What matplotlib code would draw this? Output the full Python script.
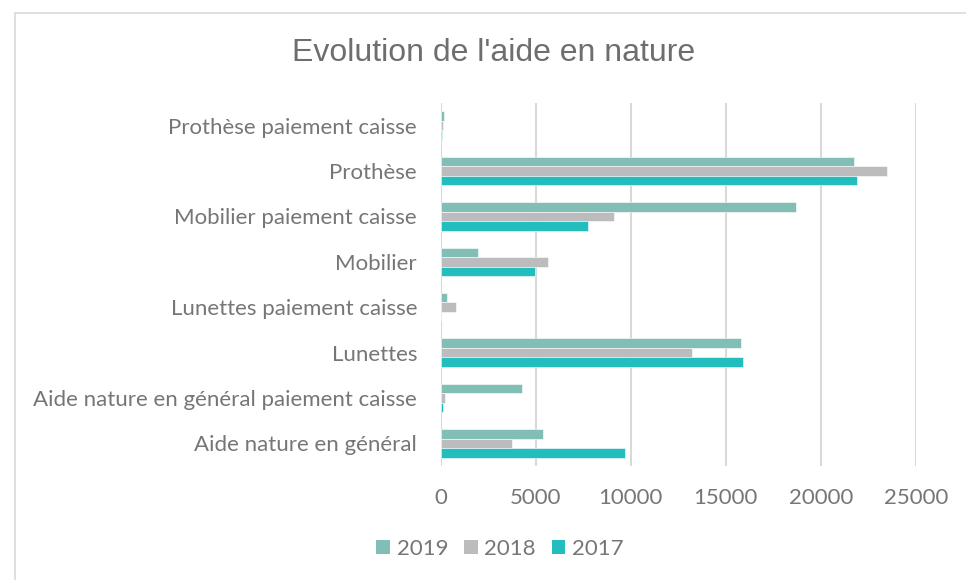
import matplotlib
matplotlib.use("Agg")
import matplotlib.pyplot as plt
from matplotlib.patches import Rectangle, Patch
import numpy as np

categories = [
    "Aide nature en général",
    "Aide nature en général paiement caisse",
    "Lunettes",
    "Lunettes paiement caisse",
    "Mobilier",
    "Mobilier paiement caisse",
    "Prothèse",
    "Prothèse paiement caisse",
]
values_2019 = [5380, 4260, 15800, 350, 1950, 18700, 21740, 175]
values_2018 = [3750, 210, 13200, 800, 5630, 9140, 23500, 140]
values_2017 = [9720, 140, 15910, 0, 4980, 7750, 21900, 70]
series_labels = ["2019", "2018", "2017"]
x_ticks = [0, 5000, 10000, 15000, 20000, 25000]

colors = ["#81BEB5", "#BCBCBF", "#24BDBE"]
text_color = "#767676"
grid_color = "#D9D9D9"

plt.rcParams["font.family"] = ["Lato", "DejaVu Sans"]

fig = plt.figure(figsize=(9.66, 5.8), dpi=100)
W, H = 966, 580

# outer chart frame
fig.patches.append(Rectangle((15 / W, -0.1), 1.2, 1 - 13 / H + 0.1,
                             transform=fig.transFigure, fill=False,
                             edgecolor=grid_color, linewidth=1.2, zorder=0))

ax = fig.add_axes([440.7 / W, 1 - 466 / H, (916 - 440.7) / W, (466 - 103) / H])

y = np.arange(len(categories))
h = 0.21
for vals, off, col, lab in zip([values_2019, values_2018, values_2017],
                               [h, 0, -h], colors, series_labels):
    ax.barh(y + off, vals, height=h, color=col, label=lab,
            edgecolor="white", linewidth=0.4, zorder=3)

ax.set_xlim(0, 25000)
ax.set_ylim(-0.5, len(categories) - 0.5)
ax.set_xticks(x_ticks)
ax.set_xticklabels([str(t) for t in x_ticks])
ax.set_yticks(y)
ax.set_yticklabels(categories)
ax.tick_params(axis="both", length=0, labelsize=16, colors=text_color)
ax.tick_params(axis="y", pad=17)
ax.tick_params(axis="x", pad=16)
ax.grid(axis="x", color=grid_color, linewidth=1.5, zorder=0)
for s in ax.spines.values():
    s.set_visible(False)

fig.text(494 / W, 1 - 53 / H, "Evolution de l'aide en nature",
         ha="center", va="center", fontsize=23, color="#6E6E6E",
         family=["Liberation Sans", "DejaVu Sans"])

handles = [Patch(facecolor=c, edgecolor="none") for c in colors]
leg = fig.legend(handles, series_labels, loc="center",
                 bbox_to_anchor=(500 / W, 1 - 549 / H), ncol=3, frameon=False,
                 handlelength=0.62, handleheight=0.62, handletextpad=0.3,
                 columnspacing=0.7, fontsize=16)
for t in leg.get_texts():
    t.set_color(text_color)

fig.savefig("out.png", dpi=100, facecolor="white")
